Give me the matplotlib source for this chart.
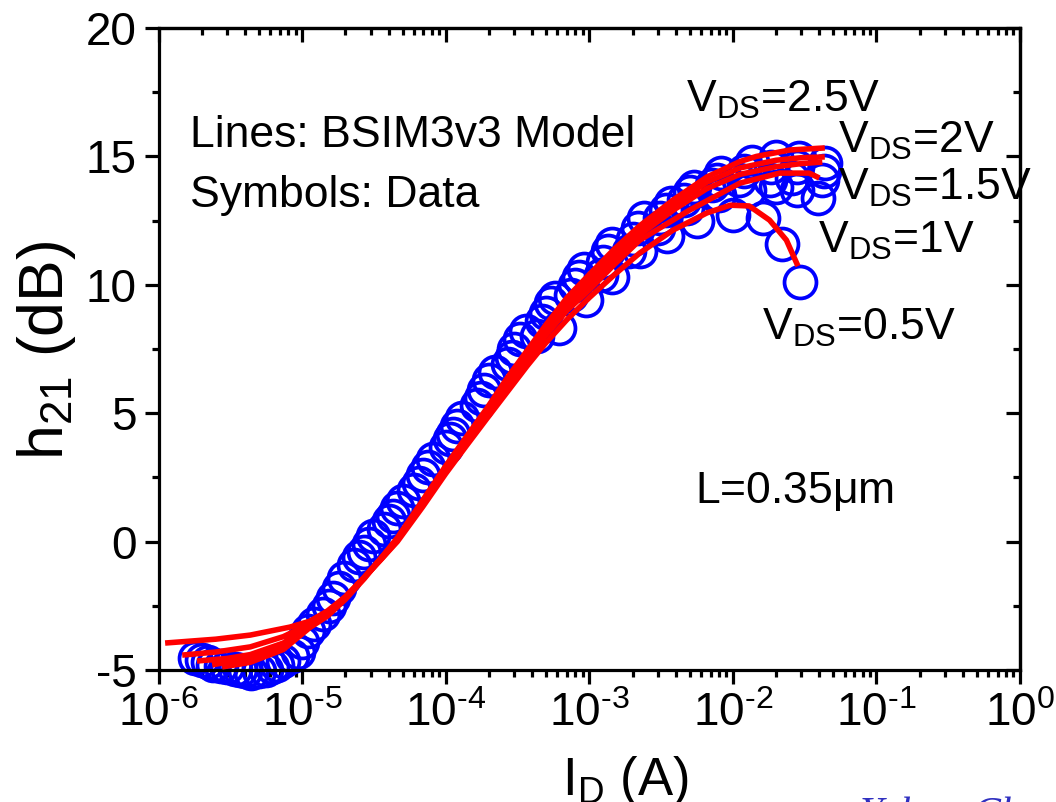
import matplotlib
matplotlib.use("Agg")
import matplotlib.pyplot as plt
from matplotlib.ticker import LogLocator, MultipleLocator, NullFormatter, FixedLocator

plt.rcParams['font.family'] = ['Liberation Sans', 'DejaVu Sans']
plt.rcParams['mathtext.fontset'] = 'custom'
plt.rcParams['mathtext.rm'] = 'Liberation Sans'
plt.rcParams['mathtext.it'] = 'Liberation Sans'
plt.rcParams['axes.unicode_minus'] = False

# ---------------- data (symbols) ----------------
d05_x = [1.8e-6, 3.0e-6, 5.0e-6, 8.5e-6, 1.4e-5, 2.3e-5, 3.7e-5, 6.0e-5, 1.0e-4, 1.65e-4,
         2.7e-4, 4.3e-4, 6.2e-4, 9.5e-4, 1.45e-3, 2.25e-3, 3.5e-3, 5.6e-3, 1.0e-2, 1.63e-2,
         2.2e-2, 2.93e-2]
d05_y = [-4.55, -4.9, -5.05, -4.45, -2.8, -0.9, 0.5, 2.0, 3.7, 5.3,
         6.9, 8.0, 8.3, 9.4, 10.3, 11.3, 11.9, 12.5, 12.72, 12.6,
         11.6, 10.1]

d1_x = [2.0e-6, 3.4e-6, 5.6e-6, 9.3e-6, 1.55e-5, 2.5e-5, 4.0e-5, 6.5e-5, 1.07e-4, 1.75e-4,
        2.9e-4, 4.7e-4, 7.5e-4, 1.2e-3, 1.9e-3, 3.0e-3, 4.8e-3, 8.0e-3, 1.3e-2, 2.0e-2,
        2.8e-2, 3.9e-2]
d1_y = [-4.6, -4.95, -5.0, -4.3, -2.5, -0.6, 0.8, 2.3, 4.0, 5.6,
        7.2, 8.6, 9.6, 10.4, 11.3, 12.2, 13.0, 13.5, 13.7, 13.8,
        13.7, 13.38]

d15_x = [2.2e-6, 3.7e-6, 6.2e-6, 1.0e-5, 1.65e-5, 2.7e-5, 4.3e-5, 7.0e-5, 1.12e-4, 1.85e-4,
         3.0e-4, 5.0e-4, 8.0e-4, 1.25e-3, 2.0e-3, 3.1e-3, 4.6e-3, 7.2e-3, 1.1e-2, 1.8e-2,
         2.6e-2, 4.2e-2]
d15_y = [-4.7, -5.0, -4.9, -3.9, -2.2, -0.4, 1.0, 2.6, 4.2, 5.9,
         7.5, 8.9, 10.0, 10.9, 11.8, 12.6, 13.3, 13.9, 14.08, 14.1,
         14.15, 14.1]

d2_x = [2.4e-6, 4.0e-6, 6.7e-6, 1.1e-5, 1.8e-5, 2.9e-5, 4.6e-5, 7.5e-5, 1.2e-4, 2.0e-4,
        3.3e-4, 5.4e-4, 8.5e-4, 1.35e-3, 2.2e-3, 3.4e-3, 5.0e-3, 7.7e-3, 1.2e-2, 1.85e-2,
        2.8e-2, 4.3e-2]
d2_y = [-4.8, -5.05, -4.8, -3.5, -1.8, -0.1, 1.3, 2.9, 4.5, 6.3,
        7.9, 9.3, 10.3, 11.3, 12.2, 12.9, 13.6, 14.1, 14.45, 14.6,
        14.6, 14.45]

d25_x = [2.7e-6, 4.4e-6, 7.3e-6, 1.2e-5, 1.95e-5, 3.1e-5, 5.0e-5, 8.2e-5, 1.3e-4, 2.2e-4,
         3.6e-4, 5.8e-4, 9.2e-4, 1.45e-3, 2.4e-3, 3.7e-3, 5.4e-3, 8.3e-3, 1.35e-2, 2.0e-2,
         2.9e-2, 4.4e-2]
d25_y = [-4.85, -5.1, -4.65, -3.2, -1.4, 0.2, 1.6, 3.2, 4.8, 6.6,
         8.2, 9.5, 10.6, 11.6, 12.6, 13.2, 13.8, 14.35, 14.8, 14.97,
         14.94, 14.76]

# ---------------- BSIM3v3 model (lines) ----------------
m05_x = [1.11e-6, 2.5e-6, 4.35e-6, 8.2e-6, 1.13e-5, 1.5e-5, 2.0e-5, 2.7e-5, 3.6e-5, 4.6e-5,
         6.9e-5, 1.0e-4, 1.4e-4, 1.94e-4, 2.7e-4, 3.7e-4, 5.0e-4, 7.0e-4, 1.0e-3, 1.5e-3,
         2.25e-3, 3.83e-3, 6.6e-3, 9.6e-3, 1.3e-2, 1.8e-2, 2.36e-2, 2.84e-2]
m05_y = [-3.95, -3.8, -3.64, -3.33, -3.1, -2.7, -2.15, -1.4, -0.65, 0.0,
         1.35, 2.65, 3.75, 4.8, 5.85, 6.85, 7.75, 8.65, 9.5, 10.4,
         11.24, 12.13, 12.8, 13.1, 13.07, 12.52, 11.74, 10.73]

m1_x = [1.46e-6, 2.5e-6, 4.35e-6, 7.4e-6, 1.13e-5, 1.5e-5, 2.0e-5, 2.7e-5, 3.6e-5, 4.6e-5,
        6.9e-5, 1.0e-4, 1.4e-4, 1.94e-4, 2.7e-4, 3.7e-4, 5.0e-4, 7.0e-4, 1.0e-3, 1.5e-3,
        2.25e-3, 4.96e-3, 1.12e-2, 2.12e-2, 3.4e-2, 4.0e-2]
m1_y = [-4.42, -4.3, -4.1, -3.7, -3.2, -2.75, -2.15, -1.4, -0.65, 0.05,
        1.45, 2.75, 3.9, 5.0, 6.1, 7.1, 8.05, 9.0, 9.8, 10.8,
        11.74, 12.9, 13.96, 14.35, 14.35, 14.16]

m15_x = [1.85e-6, 3.0e-6, 4.35e-6, 7.4e-6, 1.13e-5, 1.5e-5, 2.0e-5, 2.7e-5, 3.6e-5, 4.6e-5,
         6.9e-5, 1.0e-4, 1.4e-4, 1.94e-4, 2.7e-4, 3.7e-4, 5.0e-4, 7.0e-4, 1.0e-3, 1.5e-3,
         2.25e-3, 3.83e-3, 6.6e-3, 1.12e-2, 2.0e-2, 3.0e-2, 4.2e-2]
m15_y = [-4.65, -4.55, -4.4, -3.95, -3.25, -2.8, -2.2, -1.4, -0.6, 0.1,
         1.5, 2.85, 4.0, 5.1, 6.2, 7.25, 8.2, 9.2, 10.05, 11.0,
         11.95, 12.9, 13.75, 14.3, 14.6, 14.72, 14.78]

m2_x = [2.36e-6, 3.3e-6, 4.35e-6, 7.4e-6, 1.13e-5, 1.5e-5, 2.0e-5, 2.7e-5, 3.6e-5, 4.6e-5,
        6.9e-5, 1.0e-4, 1.4e-4, 1.94e-4, 2.7e-4, 3.7e-4, 5.0e-4, 7.0e-4, 1.0e-3, 1.5e-3,
        2.25e-3, 3.83e-3, 6.6e-3, 1.12e-2, 2.0e-2, 3.0e-2, 4.37e-2]
m2_y = [-4.8, -4.65, -4.5, -4.1, -3.3, -2.85, -2.2, -1.4, -0.6, 0.1,
        1.55, 2.9, 4.05, 5.15, 6.3, 7.35, 8.35, 9.35, 10.2, 11.2,
        12.1, 13.1, 14.0, 14.55, 14.85, 14.95, 14.98]

m25_x = [2.77e-6, 3.6e-6, 4.35e-6, 7.4e-6, 1.13e-5, 1.5e-5, 2.0e-5, 2.7e-5, 3.6e-5, 4.6e-5,
         6.9e-5, 1.0e-4, 1.4e-4, 1.94e-4, 2.7e-4, 3.7e-4, 5.0e-4, 7.0e-4, 1.0e-3, 1.5e-3,
         2.25e-3, 3.83e-3, 6.6e-3, 1.12e-2, 1.46e-2, 2.5e-2, 4.37e-2]
m25_y = [-4.88, -4.78, -4.7, -4.2, -3.35, -2.9, -2.25, -1.45, -0.6, 0.15,
         1.6, 2.95, 4.1, 5.2, 6.4, 7.45, 8.45, 9.5, 10.4, 11.4,
         12.3, 13.3, 14.2, 14.8, 15.0, 15.25, 15.33]

data_series = [(d05_x, d05_y), (d1_x, d1_y), (d15_x, d15_y), (d2_x, d2_y), (d25_x, d25_y)]
model_series = [(m05_x, m05_y), (m1_x, m1_y), (m15_x, m15_y), (m2_x, m2_y), (m25_x, m25_y)]

xtick_vals = [1e-6, 1e-5, 1e-4, 1e-3, 1e-2, 1e-1, 1e0]
xtick_labels = [r'$\mathregular{10^{\text{-}6}}$', r'$\mathregular{10^{\text{-}5}}$',
                r'$\mathregular{10^{\text{-}4}}$', r'$\mathregular{10^{\text{-}3}}$',
                r'$\mathregular{10^{\text{-}2}}$', r'$\mathregular{10^{\text{-}1}}$',
                r'$\mathregular{10^{0}}$']
ytick_vals = [-5, 0, 5, 10, 15, 20]
ytick_labels = ['-5', '0', '5', '10', '15', '20']

# ---------------- figure ----------------
W, H = 1056, 802
fig = plt.figure(figsize=(W / 100, H / 100), dpi=100)
ax = fig.add_axes([158.6 / W, 1 - 670 / H, (1020 - 158.6) / W, (670 - 28) / H])
ax.set_xscale('log')
ax.set_xlim(1e-6, 1e0)
ax.set_ylim(-5, 20)

for xs, ys in data_series:
    ax.plot(xs, ys, linestyle='none', marker='o', markersize=23, markerfacecolor='none',
            markeredgecolor='#0000ff', markeredgewidth=2.7, clip_on=False, zorder=2)
for xs, ys in model_series:
    ax.plot(xs, ys, color='#ff0000', linewidth=4.0, solid_capstyle='butt', zorder=3)

for s in ax.spines.values():
    s.set_linewidth(2.3)

ax.xaxis.set_major_locator(FixedLocator(xtick_vals))
ax.set_xticklabels(xtick_labels)
ax.xaxis.set_minor_locator(LogLocator(base=10, subs=range(2, 10), numticks=20))
ax.xaxis.set_minor_formatter(NullFormatter())
ax.set_yticks(ytick_vals)
ax.set_yticklabels(ytick_labels)
ax.yaxis.set_minor_locator(MultipleLocator(2.5))

ax.tick_params(which='both', direction='out', top=False, right=False, width=2.3, labelsize=33, pad=6)
ax.tick_params(which='major', length=10)
ax.tick_params(which='minor', length=5)

# inward ticks on top and right
axt = ax.secondary_xaxis('top')
axt.xaxis.set_major_locator(FixedLocator(xtick_vals))
axt.xaxis.set_minor_locator(LogLocator(base=10, subs=range(2, 10), numticks=20))
axt.tick_params(which='both', direction='in', width=2.3, labeltop=False)
axt.tick_params(which='major', length=10)
axt.tick_params(which='minor', length=5)
axt.spines['top'].set_linewidth(2.3)
axr = ax.secondary_yaxis('right')
axr.set_yticks(ytick_vals)
axr.yaxis.set_minor_locator(MultipleLocator(2.5))
axr.tick_params(which='both', direction='in', width=2.3, labelright=False)
axr.tick_params(which='major', length=10)
axr.tick_params(which='minor', length=5)
axr.spines['right'].set_linewidth(2.3)

# axis labels
fig.text(46 / W, 1 - 350 / H, r'h$_{\mathregular{21}}$ (dB)', rotation=90, fontsize=45,
         ha='center', va='center')
fig.text(625 / W, 1 - 781 / H, r'I$_{\mathregular{D}}$ (A)', fontsize=38, ha='center', va='center')

# annotations
ts = 32
def px(xp, yp):
    return (xp / W, 1 - yp / H)

fig.text(*px(190, 147), 'Lines: BSIM3v3 Model', fontsize=ts, va='baseline')
fig.text(*px(190, 207), 'Symbols: Data', fontsize=ts, va='baseline')
fig.text(*px(686, 112), r'V$_{\mathregular{DS}}$=2.5V', fontsize=ts, va='baseline')
fig.text(*px(838, 153), r'V$_{\mathregular{DS}}$=2V', fontsize=ts, va='baseline')
fig.text(*px(838, 200), r'V$_{\mathregular{DS}}$=1.5V', fontsize=ts, va='baseline')
fig.text(*px(818, 253), r'V$_{\mathregular{DS}}$=1V', fontsize=ts, va='baseline')
fig.text(*px(762, 340), r'V$_{\mathregular{DS}}$=0.5V', fontsize=ts, va='baseline')
fig.text(*px(695, 503), r'L=0.35$\mathregular{\mu}$m', fontsize=ts, va='baseline')

# partially visible watermark at bottom
fig.text(*px(860, 826), 'Yuhua Cheng', fontsize=30, color='#3030c0', family='Liberation Serif',
         style='italic', va='baseline')

fig.savefig('out.png', dpi=100)
